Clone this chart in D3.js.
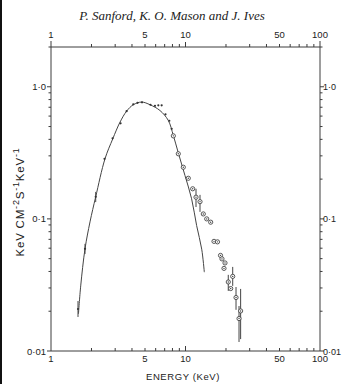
<!DOCTYPE html>
<html>
<head>
<meta charset="utf-8">
<script src="https://cdn.jsdelivr.net/npm/d3@7"></script>
<style>
  body { margin: 0; background: #fff; }
  svg { display: block; }
</style>
</head>
<body>
<div id="svgContainer"></div>
<script>
// model curve
var curveE = [1.60, 1.663, 1.79, 1.95, 2.15, 2.52, 2.88, 3.26, 3.65, 4.09, 4.72, 5.45, 6.46, 7.45, 8.12, 8.84, 9.91, 11.1, 12.1, 13.2, 13.8]
var curveF = [0.0191, 0.0311, 0.0593, 0.0949, 0.147, 0.285, 0.404, 0.540, 0.654, 0.731, 0.766, 0.731, 0.661, 0.556, 0.428, 0.316, 0.213, 0.142, 0.089, 0.059, 0.0395]

// small dots (low energy detector)
var dotE  = [1.588, 1.79, 2.15, 2.50, 2.87, 3.29, 3.65, 4.09, 4.40, 4.75, 5.49, 5.93, 6.28, 6.65, 7.10, 7.58, 7.89]
var dotF  = [0.0208, 0.0593, 0.147, 0.285, 0.407, 0.529, 0.654, 0.737, 0.756, 0.763, 0.731, 0.718, 0.724, 0.724, 0.619, 0.553, 0.481]
var dotLo = [0.0181, 0.0543, 0.134, null, null, null, null, null, null, null, null, null, null, null, null, null, null]
var dotHi = [0.0239, 0.0647, 0.160, null, null, null, null, null, null, null, null, null, null, null, null, null, null]

// open circles (high energy detector)
var circE  = [8.12, 8.84, 9.63, 10.49, 11.31, 11.97, 12.82, 13.56, 14.38, 15.39, 16.29, 17.29, 18.21, 18.67, 19.67, 19.33, 22.44, 20.8, 21.68, 23.75, 25.7, 25.0]
var circF  = [0.425, 0.311, 0.246, 0.203, 0.169, 0.146, 0.135, 0.109, 0.100, 0.0944, 0.0676, 0.0670, 0.0529, 0.0498, 0.0464, 0.0422, 0.0367, 0.0333, 0.0297, 0.0254, 0.0201, 0.0176]
var circLo = [null, null, null, null, null, 0.123, 0.113, null, null, null, null, null, null, null, null, null, 0.0311, 0.0285, null, 0.0205, 0.0123, 0.0117]
var circHi = [null, null, null, null, null, 0.169, 0.152, null, null, null, null, null, null, null, null, null, 0.0433, 0.0377, null, 0.0305, 0.0295, 0.0219]

var xMajor = [1, 5, 10, 50, 100]
var yMajor = [1, 0.1, 0.01]
var yMajorText = ["1·0", "0·1", "0·01"]

function drawChart() {
    var width = 351, height = 384;
    var left = 51, right = 320, top = 47, bottom = 351;
    var axisColor = "#3c3c3c";

    var svg = d3.select("#svgContainer")
        .append("svg")
        .attr("width", width)
        .attr("height", height);

    svg.append("rect").attr("x", 0).attr("y", 0).attr("width", width).attr("height", height).attr("fill", "#fff");
    // scan edge
    svg.append("rect").attr("x", 0).attr("y", 0).attr("width", 2).attr("height", height).attr("fill", "#111");

    var xScale = d3.scaleLog().domain([1, 100]).range([left, right]);
    var yScale = d3.scaleLog().domain([0.01, 2]).range([bottom, top]);

    var minorX = [];
    [1, 10].forEach(d => { for (var k = 2; k <= 9; k++) minorX.push(d * k) });
    var minorY = [];
    [0.01, 0.1, 1].forEach(d => { for (var k = 2; k <= 9; k++) if (d * k <= 2) minorY.push(d * k) });

    // title
    svg.append("text")
        .attr("x", 172).attr("y", 20)
        .attr("text-anchor", "middle")
        .style("font-family", "'Liberation Serif', 'DejaVu Serif', serif")
        .style("font-style", "italic")
        .style("font-size", "13px")
        .style("fill", "#222")
        .text("P. Sanford, K. O. Mason and J. Ives");

    var ax = svg.append("g").attr("stroke", axisColor).attr("stroke-width", 1).attr("fill", "none");
    // frame
    ax.append("line").attr("x1", left).attr("x2", right).attr("y1", top).attr("y2", top);
    ax.append("line").attr("x1", left).attr("x2", right).attr("y1", bottom).attr("y2", bottom);
    ax.append("line").attr("x1", left).attr("x2", left).attr("y1", top - 6).attr("y2", bottom);
    ax.append("line").attr("x1", right).attr("x2", right).attr("y1", top - 6).attr("y2", bottom);

    // x ticks: top outward, bottom inward
    ax.selectAll(".xt").data(minorX.concat([10])).enter().append("line")
        .attr("x1", d => xScale(d)).attr("x2", d => xScale(d))
        .attr("y1", top).attr("y2", d => top - (d == 10 ? 5 : 3));
    ax.selectAll(".xb").data(minorX.concat([10])).enter().append("line")
        .attr("x1", d => xScale(d)).attr("x2", d => xScale(d))
        .attr("y1", bottom).attr("y2", d => bottom - (d == 10 ? 5 : 3));

    // y ticks: left and right outward
    ax.selectAll(".yl").data(minorY.concat(yMajor)).enter().append("line")
        .attr("y1", d => yScale(d)).attr("y2", d => yScale(d))
        .attr("x1", left).attr("x2", d => left - (yMajor.indexOf(d) >= 0 ? 4 : 2.5));
    ax.selectAll(".yr").data(minorY.concat(yMajor)).enter().append("line")
        .attr("y1", d => yScale(d)).attr("y2", d => yScale(d))
        .attr("x1", right).attr("x2", d => right + (yMajor.indexOf(d) >= 0 ? 4 : 2.5));

    var labelFont = "'Liberation Sans', Arial, sans-serif";
    // x labels
    svg.selectAll(".xtop").data(xMajor).enter().append("text")
        .attr("x", d => xScale(d)).attr("y", 38)
        .attr("text-anchor", "middle")
        .style("font-family", labelFont).style("font-size", "9.5px").style("fill", "#222")
        .text(d => d);
    svg.selectAll(".xbot").data(xMajor).enter().append("text")
        .attr("x", d => xScale(d)).attr("y", 362)
        .attr("text-anchor", "middle")
        .style("font-family", labelFont).style("font-size", "9.5px").style("fill", "#222")
        .text(d => d);

    // y labels
    svg.selectAll(".ylab").data(yMajor).enter().append("text")
        .attr("x", left - 5).attr("y", d => yScale(d) + 3.5)
        .attr("text-anchor", "end")
        .style("font-family", labelFont).style("font-size", "9.5px").style("fill", "#222")
        .text((d, i) => yMajorText[i]);
    svg.selectAll(".yrab").data(yMajor).enter().append("text")
        .attr("x", right + 3).attr("y", d => yScale(d) + 3.5)
        .attr("text-anchor", "start")
        .style("font-family", labelFont).style("font-size", "9px").style("fill", "#222")
        .text((d, i) => yMajorText[i]);

    // axis titles
    svg.append("text")
        .attr("x", 183).attr("y", 380)
        .attr("text-anchor", "middle")
        .style("font-family", labelFont).style("font-size", "9.5px").style("letter-spacing", "0.6px").style("fill", "#222")
        .text("ENERGY (KeV)");

    var yt = svg.append("text")
        .attr("transform", "translate(24,202) rotate(-90)")
        .attr("text-anchor", "middle")
        .style("font-family", labelFont).style("font-size", "11.5px").style("letter-spacing", "0.8px")
        .style("fill", "#222");
    yt.append("tspan").text("KeV  CM");
    yt.append("tspan").attr("dy", -5).style("font-size", "9px").text("-2");
    yt.append("tspan").attr("dy", 5).text("S");
    yt.append("tspan").attr("dy", -5).style("font-size", "9px").text("-1");
    yt.append("tspan").attr("dy", 5).text("KeV");
    yt.append("tspan").attr("dy", -5).style("font-size", "9px").text("-1");

    // model curve
    var curve = curveE.map((e, i) => ({ e: e, f: curveF[i] }));
    svg.append("path")
        .datum(curve)
        .attr("fill", "none")
        .attr("stroke", "#444")
        .attr("stroke-width", 1)
        .attr("d", d3.line()
            .x(d => xScale(d.e))
            .y(d => yScale(d.f))
            .curve(d3.curveCatmullRom));

    // error bars
    var dots = dotE.map((e, i) => ({ e: e, f: dotF[i], lo: dotLo[i], hi: dotHi[i] }));
    var circs = circE.map((e, i) => ({ e: e, f: circF[i], lo: circLo[i], hi: circHi[i] }));
    svg.selectAll(".err").data(dots.concat(circs).filter(d => d.lo != null)).enter().append("line")
        .attr("x1", d => xScale(d.e)).attr("x2", d => xScale(d.e))
        .attr("y1", d => yScale(d.lo)).attr("y2", d => yScale(d.hi))
        .attr("stroke", "#444").attr("stroke-width", 1);

    svg.selectAll(".dot").data(dots).enter().append("circle")
        .attr("cx", d => xScale(d.e)).attr("cy", d => yScale(d.f))
        .attr("r", 1.1).attr("fill", "#333");

    svg.selectAll(".circ").data(circs).enter().append("circle")
        .attr("cx", d => xScale(d.e)).attr("cy", d => yScale(d.f))
        .attr("r", 2.1).attr("fill", "#fff").attr("stroke", "#444").attr("stroke-width", 0.9);
    svg.selectAll(".circc").data(circs).enter().append("circle")
        .attr("cx", d => xScale(d.e)).attr("cy", d => yScale(d.f))
        .attr("r", 0.7).attr("fill", "#444");
}
drawChart();
</script>
</body>
</html>
